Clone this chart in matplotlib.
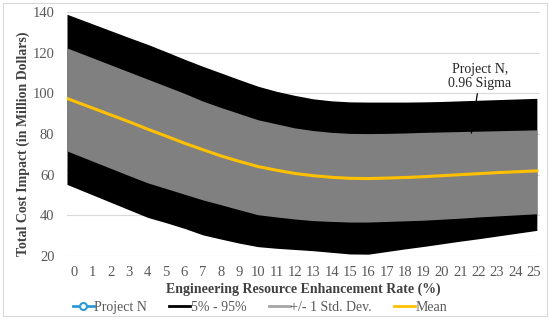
import numpy as np
import matplotlib
matplotlib.use("Agg")
import matplotlib.pyplot as plt
from matplotlib.lines import Line2D
from matplotlib.patches import Rectangle

# data (Million Dollars)
rates = np.arange(0, 26)
p95 = [137.6, 134.2, 130.8, 127.4, 124.1, 120.5, 116.8, 113.3, 110.0, 106.7,
       103.5, 101.0, 99.0, 97.3, 96.3, 95.8, 95.7, 95.7, 95.7, 95.8,
       96.0, 96.3, 96.6, 96.9, 97.2, 97.5]
sd_hi = [121.0, 117.5, 114.0, 110.5, 107.0, 103.5, 100.0, 96.2, 93.0, 90.0,
         87.0, 85.0, 83.0, 81.7, 80.8, 80.3, 80.2, 80.3, 80.5, 80.8,
         81.0, 81.2, 81.4, 81.6, 81.8, 82.0]
mean = [96.2, 92.8, 89.4, 86.0, 82.4, 79.0, 75.5, 72.3, 69.2, 66.5,
        64.0, 62.2, 60.6, 59.5, 58.7, 58.2, 58.1, 58.3, 58.6, 59.0,
        59.5, 60.0, 60.5, 61.0, 61.4, 61.8]
sd_lo = [70.3, 66.7, 63.1, 59.5, 56.0, 53.2, 50.4, 47.6, 45.2, 42.7,
         40.3, 39.2, 38.2, 37.4, 37.0, 36.7, 36.7, 37.0, 37.3, 37.6,
         38.1, 38.6, 39.2, 39.7, 40.2, 40.7]
p5 = [53.8, 50.1, 46.4, 42.7, 39.0, 36.4, 33.6, 30.4, 28.3, 26.3,
      24.6, 23.8, 23.2, 22.6, 21.8, 21.0, 20.9, 22.2, 23.5, 24.7,
      26.0, 27.3, 28.5, 29.8, 31.1, 32.4]
proj_rate, proj_val = 21.6, 80.4

x_lo, x_hi = -0.38, 25.16


def extend(y):
    # continue the series out to the plot edges (linear)
    y = np.asarray(y, float)
    left = y[0] + (y[0] - y[1]) * (0 - x_lo)
    right = y[-1] + (y[-1] - y[-2]) * (x_hi - 25)
    return np.r_[left, y, right]


xx = np.r_[x_lo, rates, x_hi]

plt.rcParams['font.family'] = ['Liberation Serif', 'DejaVu Serif']
fig = plt.figure(figsize=(5.5, 3.2), dpi=100)
ax = fig.add_axes([0.1218, 0.2, 0.86, 0.7625])

ax.fill_between(xx, extend(p5), extend(p95), color='black', lw=0, zorder=2)
ax.fill_between(xx, extend(sd_lo), extend(sd_hi), color='#808080', lw=0, zorder=3)
ax.plot(xx, extend(mean), color='#FFC000', lw=2.2, zorder=4)

ax.annotate('Project N,\n0.96 Sigma', xy=(proj_rate, proj_val), xytext=(22.07, 108.5),
            ha='center', va='center', fontsize=10, color='#262626',
            linespacing=1.1,
            arrowprops=dict(arrowstyle='-', color='black', lw=0.9, shrinkA=1, shrinkB=0),
            zorder=5)

ax.set_xlim(-0.38, 25.33)
ax.set_ylim(20, 140)
ax.set_yticks(range(20, 141, 20))
ax.set_xticks(rates)
ax.set_xticklabels([str(r) for r in rates])
ax.grid(axis='y', color='#D9D9D9', lw=0.8, zorder=0)
ax.set_axisbelow(True)
for s in ax.spines.values():
    s.set_visible(False)
ax.tick_params(length=0, labelsize=10.5, labelcolor='#595959', pad=7)
ax.tick_params(axis='y', pad=9)

ax.set_xlabel('Engineering Resource Enhancement Rate (%)', fontsize=10,
              fontweight='bold', color='#404040', labelpad=3)
ax.set_ylabel('Total Cost Impact (in Million Dollars)', fontsize=10,
              fontweight='bold', color='#404040')
ax.yaxis.set_label_coords(-0.078, 0.46)

handles = [
    Line2D([], [], color='#2E9BD6', lw=2, marker='o', ms=5, mfc='white', mew=1.5),
    Line2D([], [], color='black', lw=2),
    Line2D([], [], color='#A6A6A6', lw=2),
    Line2D([], [], color='#FFC000', lw=2),
]
labels = ['Project N', '5% - 95%', '+/- 1 Std. Dev.', 'Mean']
fig.legend(handles, labels, loc='center', bbox_to_anchor=(0.473, 0.04), ncol=4,
           frameon=False, fontsize=10, handlelength=1.5, handletextpad=0.05,
           columnspacing=1.6, labelcolor='#595959', borderpad=0)

fig.add_artist(Rectangle((0.006, 0.012), 0.988, 0.978, transform=fig.transFigure,
                         fill=False, edgecolor='#D9D9D9', lw=0.8))

fig.savefig('out.png', dpi=100)
